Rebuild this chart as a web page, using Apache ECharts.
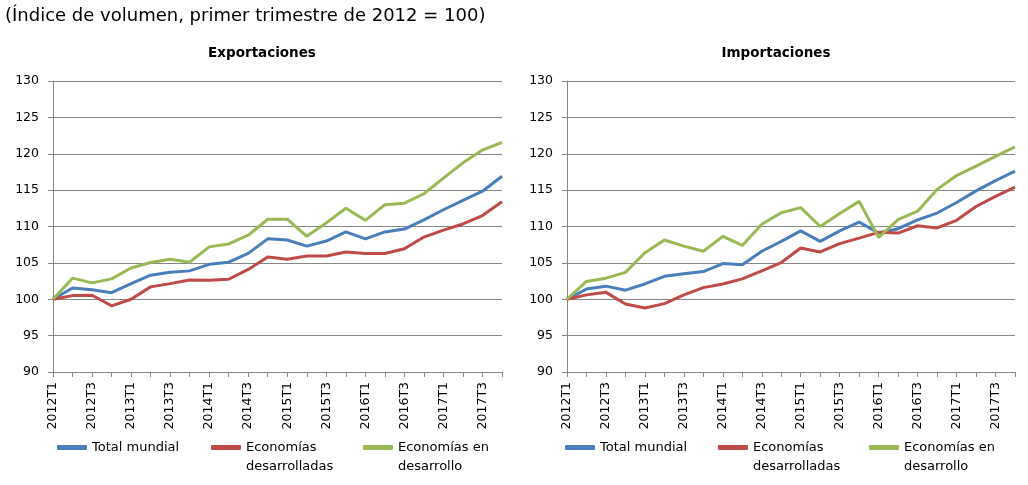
<!DOCTYPE html>
<html>
<head>
<meta charset="utf-8">
<script src="https://cdn.jsdelivr.net/npm/echarts@6/dist/echarts.min.js"></script>
<style>
html,body{margin:0;padding:0;background:#fff;}
#chart{width:1028px;height:485px;}
</style>
</head>
<body>
<div id="chart"></div>
<script>
// trimestres 2012T1 .. 2017T4
var quarters = [];
var years = ['2012','2013','2014','2015','2016','2017'];
for (var y = 0; y < years.length; y++) {
    for (var q = 1; q <= 4; q++) {
        quarters.push(years[y] + 'T' + q);
    }
}

var seriesNames = ['Total mundial', 'Economías desarrolladas', 'Economías en desarrollo'];
// linea vacia delante: el icono queda alineado con la primera linea visible
var legendLabels = ['Total mundial', '\nEconomías\ndesarrolladas', '\nEconomías en\ndesarrollo'];
var colors = ['#4A7EBB', '#BE4B48', '#98B954'];

// Exportaciones
var expTotal = [100, 101.55, 101.3, 100.9, 102.15, 103.3, 103.7, 103.9, 104.8, 105.1, 106.3, 108.3,
                108.15, 107.3, 108.0, 109.25, 108.3, 109.25, 109.65, 110.9, 112.3, 113.6, 114.85, 116.9];
var expDesarrolladas = [100, 100.5, 100.55, 99.1, 100.0, 101.7, 102.15, 102.65, 102.6, 102.75, 104.1, 105.8,
                        105.5, 105.95, 105.95, 106.5, 106.3, 106.3, 106.95, 108.55, 109.5, 110.35, 111.5, 113.4];
var expEnDesarrollo = [100, 102.9, 102.25, 102.8, 104.3, 105.05, 105.5, 105.1, 107.2, 107.6, 108.8, 111.0,
                       111.0, 108.65, 110.5, 112.5, 110.85, 113.0, 113.2, 114.5, 116.65, 118.75, 120.5, 121.55];

// Importaciones
var impTotal = [100, 101.4, 101.8, 101.25, 102.1, 103.15, 103.5, 103.8, 104.9, 104.75, 106.6, 107.95,
                109.4, 107.95, 109.4, 110.6, 109.1, 109.7, 110.9, 111.85, 113.3, 114.9, 116.3, 117.6];
var impDesarrolladas = [100, 100.6, 100.95, 99.35, 98.8, 99.4, 100.6, 101.6, 102.1, 102.8, 103.9, 105.05,
                        107.05, 106.5, 107.65, 108.4, 109.2, 109.1, 110.1, 109.8, 110.85, 112.75, 114.15, 115.4];
var impEnDesarrollo = [100, 102.45, 102.9, 103.7, 106.4, 108.15, 107.3, 106.6, 108.65, 107.4, 110.3, 111.9,
                       112.6, 110.0, 111.8, 113.45, 108.5, 110.95, 112.1, 115.1, 117.0, 118.3, 119.65, 120.95];

var panels = [
    {title: 'Exportaciones', data: [expTotal, expDesarrolladas, expEnDesarrollo]},
    {title: 'Importaciones', data: [impTotal, impDesarrolladas, impEnDesarrollo]}
];

var fontFam = "'DejaVu Sans', Verdana, sans-serif";
var gridPos = [{left: 53, right: 526}, {left: 567, right: 13}];
var legendX = [[57, 211, 363], [565, 718, 869]];
var titleX = [262, 776];

var chart = echarts.init(document.getElementById('chart'));

var option = {
    backgroundColor: '#fff',
    animation: false,
    title: [{
        text: '(Índice de volumen, primer trimestre de 2012 = 100)',
        left: 5, top: 7, padding: 0,
        textStyle: {fontFamily: fontFam, fontSize: 18, fontWeight: 'normal', color: '#000'}
    }],
    legend: [],
    grid: [],
    xAxis: [],
    yAxis: [],
    series: []
};

for (var p = 0; p < panels.length; p++) {
    option.title.push({
        text: panels[p].title,
        left: titleX[p], top: 46, padding: 0, textAlign: 'center',
        textStyle: {fontFamily: fontFam, fontSize: 13.5, fontWeight: 'bold', color: '#000'}
    });
    option.grid.push({left: gridPos[p].left, right: gridPos[p].right, top: 81, bottom: 113});
    option.xAxis.push({
        type: 'category', gridIndex: p, data: quarters, boundaryGap: false,
        axisLine: {lineStyle: {color: '#868686', width: 1}},
        axisTick: {show: true, interval: 0, length: 5, lineStyle: {color: '#868686'}},
        axisLabel: {interval: 1, rotate: 90, margin: 10, color: '#000', fontFamily: fontFam, fontSize: 12.5},
        splitLine: {show: false}
    });
    option.yAxis.push({
        type: 'value', gridIndex: p, min: 90, max: 130, interval: 5,
        axisLine: {show: true, lineStyle: {color: '#868686', width: 1}},
        axisTick: {show: true, length: 5, lineStyle: {color: '#868686'}},
        axisLabel: {margin: 14, color: '#000', fontFamily: fontFam, fontSize: 12.5},
        splitLine: {lineStyle: {color: '#868686', width: 1}}
    });
    for (var s = 0; s < 3; s++) {
        option.series.push({
            name: seriesNames[s], type: 'line',
            xAxisIndex: p, yAxisIndex: p,
            data: panels[p].data[s],
            showSymbol: false, symbol: 'none',
            lineStyle: {color: colors[s], width: 3},
            itemStyle: {color: colors[s]}
        });
        var twoLines = legendLabels[s].indexOf('\n') >= 0;
        option.legend.push({
            data: [seriesNames[s]],
            left: legendX[p][s], top: twoLines ? 419 : 438,
            padding: 0, icon: 'roundRect', itemWidth: 30, itemHeight: 5,
            formatter: (function (lbl) { return function () { return lbl; }; })(legendLabels[s]),
            textStyle: {fontFamily: fontFam, fontSize: 13, color: '#000', lineHeight: 19}
        });
    }
}

chart.setOption(option);
</script>
</body>
</html>
